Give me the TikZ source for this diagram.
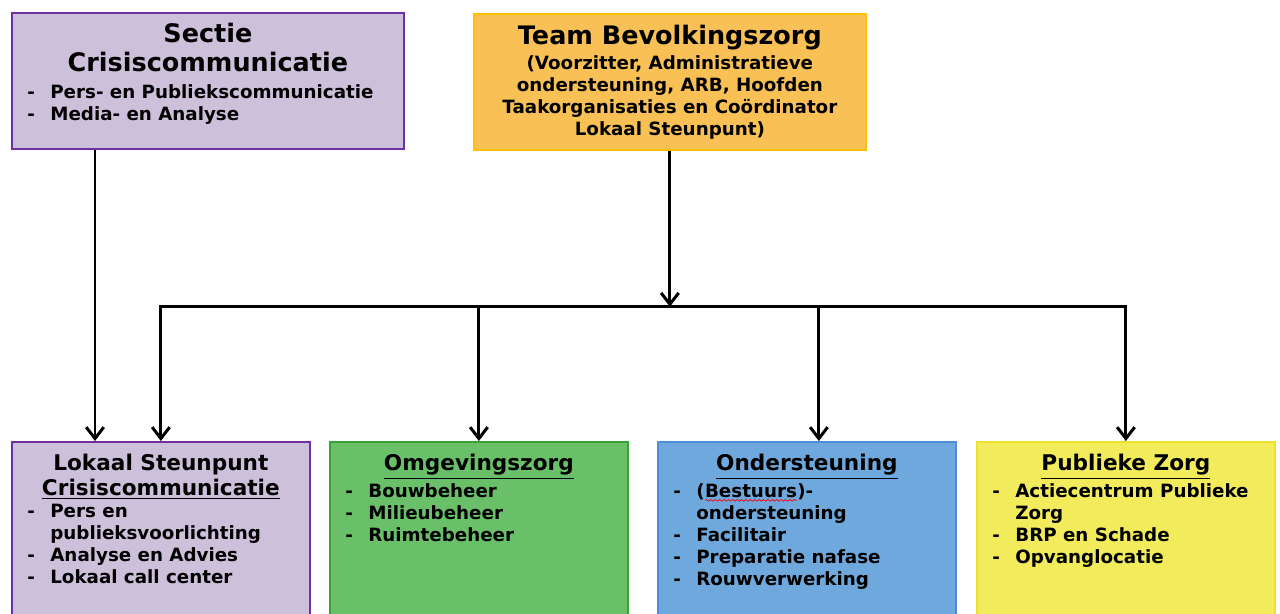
\documentclass[tikz,border=0pt]{standalone}
\usepackage{fontspec}
\setmainfont{DejaVu Sans}
\usetikzlibrary{arrows.meta,decorations.pathmorphing}
\definecolor{lila}{HTML}{CCC0DA}
\definecolor{paars}{HTML}{7030A0}
\definecolor{oranje}{HTML}{F9C155}
\definecolor{goud}{HTML}{FFC000}
\definecolor{groen}{HTML}{6ABF69}
\definecolor{donkergroen}{HTML}{3AA335}
\definecolor{blauw}{HTML}{6FA8DC}
\definecolor{donkerblauw}{HTML}{4D8FD6}
\definecolor{geel}{HTML}{F2EC5C}
\definecolor{donkergeel}{HTML}{EEE12A}
\newcommand\itm[1]{\makebox[0.46cm][l]{-}#1}
\newcommand\vervolg[1]{\hspace*{0.46cm}#1}
\newcommand\kronkel[1]{\tikz[baseline=(w.base)]{\node[inner sep=0pt,outer sep=0pt] (w) {#1};
  \draw[red,line width=0.4pt,decorate,decoration={snake,amplitude=0.5pt,segment length=2.5pt}]
    ([yshift=-1.6pt]w.base west) -- ([yshift=-1.6pt]w.base east);}}

\begin{document}
\begin{tikzpicture}

\tikzset{vak/.style 2 args={fill=#1,draw=#2,line width=1pt,anchor=north west,inner sep=0pt},
         boven/.style={minimum width=7.84cm,minimum height=2.72cm},
         onder/.style={minimum width=5.96cm,minimum height=3.9cm},
         kop/.style={anchor=north,align=center,inner sep=0pt,font=\fontsize{14.5}{16.5}\selectfont\bfseries},
         kop2/.style={anchor=north,align=center,inner sep=0pt,font=\fontsize{12.3}{14}\selectfont\bfseries},
         tekst/.style={anchor=north,align=center,inner sep=0pt,font=\fontsize{10.4}{12.5}\selectfont\bfseries},
         lijst/.style={anchor=north west,align=left,inner sep=0pt,font=\fontsize{10.4}{12.5}\selectfont\bfseries},
         pijl/.style={line width=1.7pt,-{Straight Barb[length=6.5pt,width=10pt]}}}

\useasboundingbox (0,0) rectangle (25.6,-12.26);

\node[vak={lila}{paars},boven]          (sectie)   at (0.22,-0.24) {};
\node[vak={oranje}{goud},boven]         (team)     at (9.46,-0.26) {};
\node[vak={lila}{paars},onder]          (lokaal)   at (0.22,-8.82) {};
\node[vak={groen}{donkergroen},onder]   (omgeving) at (6.58,-8.82) {};
\node[vak={blauw}{donkerblauw},onder]   (onderst)  at (13.14,-8.82) {};
\node[vak={geel}{donkergeel},onder]     (publiek)  at (19.52,-8.82) {};

\node[kop]   (sectie-kop)    at ([yshift=-0.22cm]sectie.north) {Sectie\\Crisiscommunicatie};
\node[lijst] (sectie-lijst)  at ([xshift=0.32cm,yshift=-0.24cm]sectie.west |- sectie-kop.south)
  {\itm{Pers- en Publiekscommunicatie}\\
   \itm{Media- en Analyse}};

\node[kop]   (team-kop)      at ([yshift=-0.24cm]team.north) {Team Bevolkingszorg};
\node[tekst] (team-tekst)    at ([yshift=-0.1cm]team-kop.south)
  {(Voorzitter, Administratieve\\
   ondersteuning, ARB, Hoofden\\
   Taakorganisaties en Coördinator\\
   Lokaal Steunpunt)};

\node[kop2]  (lokaal-kop)    at ([yshift=-0.26cm]lokaal.north) {Lokaal Steunpunt\\\underline{Crisiscommunicatie}};
\node[lijst] (lokaal-lijst)  at ([xshift=0.32cm,yshift=-0.08cm]lokaal.west |- lokaal-kop.south)
  {\itm{Pers en}\\
   \vervolg{publieksvoorlichting}\\
   \itm{Analyse en Advies}\\
   \itm{Lokaal call center}};

\node[kop2]  (omgeving-kop)  at ([yshift=-0.26cm]omgeving.north) {\underline{Omgevingszorg}};
\node[lijst] (omgeving-lijst) at ([xshift=0.32cm,yshift=-0.08cm]omgeving.west |- omgeving-kop.south)
  {\itm{Bouwbeheer}\\
   \itm{Milieubeheer}\\
   \itm{Ruimtebeheer}};

\node[kop2]  (onderst-kop)   at ([yshift=-0.26cm]onderst.north) {\underline{Ondersteuning}};
\node[lijst] (onderst-lijst) at ([xshift=0.32cm,yshift=-0.08cm]onderst.west |- onderst-kop.south)
  {\itm{(\kronkel{Bestuurs})-}\\
   \vervolg{ondersteuning}\\
   \itm{Facilitair}\\
   \itm{Preparatie nafase}\\
   \itm{Rouwverwerking}};

\node[kop2]  (publiek-kop)   at ([yshift=-0.26cm]publiek.north) {\underline{Publieke Zorg}};
\node[lijst] (publiek-lijst) at ([xshift=0.32cm,yshift=-0.08cm]publiek.west |- publiek-kop.south)
  {\itm{Actiecentrum Publieke}\\
   \vervolg{Zorg}\\
   \itm{BRP en Schade}\\
   \itm{Opvanglocatie}};

\coordinate (bus) at ([yshift=-3.12cm]team.south);

\draw[pijl] ([xshift=1.68cm]sectie.south west) -- ([xshift=1.68cm]lokaal.north west);
\draw[pijl] (team.south) -- (bus);
\draw[pijl] (omgeving.north |- bus) -| (lokaal.north);
\draw[pijl] (omgeving.north |- bus) -| (publiek.north);
\draw[pijl] (omgeving.north |- bus) -- (omgeving.north);
\draw[pijl] ([xshift=0.24cm]onderst.north |- bus) -- ([xshift=0.24cm]onderst.north);

\end{tikzpicture}
\end{document}
